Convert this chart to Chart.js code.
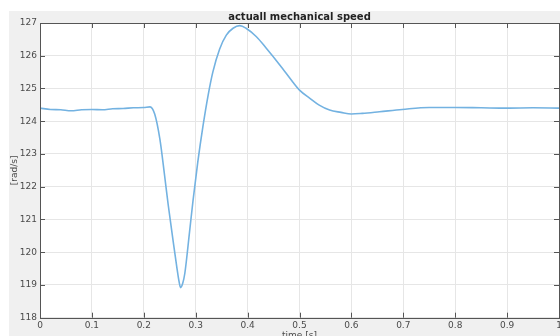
<!DOCTYPE html>
<html>
<head>
<meta charset="utf-8">
<script src="https://cdn.jsdelivr.net/npm/chart.js@4/dist/chart.umd.min.js"></script>
<style>
  html, body { margin: 0; padding: 0; background: #fff; overflow: hidden; }
  #frame { position: absolute; left: 9px; top: 11px; width: 560px; height: 334px; background: #f0f0f0; }
  #speedChart { display: block; }
</style>
</head>
<body>
<div id="frame"><canvas id="speedChart" width="560" height="334"></canvas></div>
<script>
// time [s] and speed [rad/s]
const timeS = [0, 0.02, 0.04, 0.06, 0.08, 0.10, 0.12, 0.14, 0.16, 0.18, 0.20, 0.212,
  0.221, 0.231, 0.240, 0.247, 0.256, 0.264, 0.268, 0.271, 0.275, 0.279, 0.288, 0.295,
  0.304, 0.314, 0.324, 0.333, 0.346, 0.359, 0.372, 0.385, 0.397, 0.417, 0.436, 0.462,
  0.487, 0.50, 0.52, 0.538, 0.558, 0.58, 0.60, 0.621, 0.654, 0.698, 0.75, 0.80, 0.85,
  0.90, 0.95, 1.0];
const speed = [124.40, 124.36, 124.35, 124.32, 124.35, 124.36, 124.35, 124.38, 124.39, 124.41, 124.42, 124.44,
  124.22, 123.45, 122.35, 121.45, 120.40, 119.50, 119.10, 118.92, 119.05, 119.35, 120.60, 121.60,
  122.75, 123.85, 124.80, 125.50, 126.20, 126.63, 126.84, 126.92, 126.84, 126.58, 126.23, 125.72,
  125.20, 124.95, 124.70, 124.49, 124.34, 124.27, 124.22, 124.24, 124.29, 124.36, 124.42, 124.42, 124.41,
  124.40, 124.41, 124.40];

const xTicks = [0, 0.1, 0.2, 0.3, 0.4, 0.5, 0.6, 0.7, 0.8, 0.9, 1];
const yTicks = [118, 119, 120, 121, 122, 123, 124, 125, 126, 127];

const points = timeS.map((t, i) => ({ x: t, y: speed[i] }));

const fontFam = '"DejaVu Sans", sans-serif';
const tickColor = '#4a4a4a';

// white plot area + matlab style box with inner ticks
const boxPlugin = {
  id: 'box',
  beforeDraw(chart) {
    const { ctx, chartArea: a } = chart;
    ctx.save();
    ctx.fillStyle = '#fff';
    ctx.fillRect(a.left, a.top, a.right - a.left, a.bottom - a.top);
    ctx.restore();
  },
  afterDraw(chart) {
    const { ctx, chartArea: a, scales } = chart;
    ctx.save();
    ctx.strokeStyle = '#555';
    ctx.lineWidth = 1;
    ctx.strokeRect(Math.round(a.left) + 0.5, Math.round(a.top) + 0.5,
      Math.round(a.right - a.left), Math.round(a.bottom - a.top));
    ctx.beginPath();
    scales.x.ticks.forEach(t => {
      const px = Math.round(scales.x.getPixelForValue(t.value)) + 0.5;
      ctx.moveTo(px, a.bottom); ctx.lineTo(px, a.bottom - 5);
      ctx.moveTo(px, a.top); ctx.lineTo(px, a.top + 5);
    });
    scales.y.ticks.forEach(t => {
      const py = Math.round(scales.y.getPixelForValue(t.value)) + 0.5;
      ctx.moveTo(a.left, py); ctx.lineTo(a.left + 5, py);
      ctx.moveTo(a.right, py); ctx.lineTo(a.right - 5, py);
    });
    ctx.stroke();
    ctx.restore();
  }
};

const ctx = document.getElementById('speedChart').getContext('2d');

new Chart(ctx, {
  type: 'line',
  data: {
    datasets: [{
      label: 'speed',
      data: points,
      borderColor: 'rgb(115,178,225)',
      borderWidth: 1.6,
      pointRadius: 0,
      cubicInterpolationMode: 'monotone',
      fill: false
    }]
  },
  options: {
    responsive: false,
    animation: false,
    layout: { padding: { left: 0, right: 10, top: 0, bottom: 0 } },
    plugins: {
      legend: { display: false },
      tooltip: { enabled: false },
      title: {
        display: true,
        text: 'actuall mechanical speed',
        fullSize: false,
        color: '#222',
        font: { family: fontFam, size: 10, weight: 'bold', lineHeight: 1.2 },
        padding: { top: 0, bottom: 0 }
      }
    },
    scales: {
      x: {
        type: 'linear',
        min: 0,
        max: 1,
        afterBuildTicks: s => { s.ticks = xTicks.map(v => ({ value: v })); },
        afterFit: s => { s.height = 27.3; },
        ticks: {
          color: tickColor,
          padding: 3,
          maxRotation: 0,
          font: { family: fontFam, size: 9 },
          callback: v => String(Math.round(v * 10) / 10)
        },
        grid: { color: '#e6e6e6', drawTicks: false },
        border: { display: false },
        title: {
          display: true,
          text: 'time [s]',
          color: tickColor,
          font: { family: fontFam, size: 9 }
        }
      },
      y: {
        min: 118,
        max: 127,
        afterBuildTicks: s => { s.ticks = yTicks.map(v => ({ value: v })); },
        afterFit: s => { s.width = 31; },
        ticks: {
          color: tickColor,
          padding: 3,
          font: { family: fontFam, size: 9 }
        },
        grid: { color: '#e6e6e6', drawTicks: false },
        border: { display: false },
        title: {
          display: true,
          text: '[rad/s]',
          color: tickColor,
          padding: 0,
          font: { family: fontFam, size: 9 }
        }
      }
    }
  },
  plugins: [boxPlugin]
});
</script>
</body>
</html>
